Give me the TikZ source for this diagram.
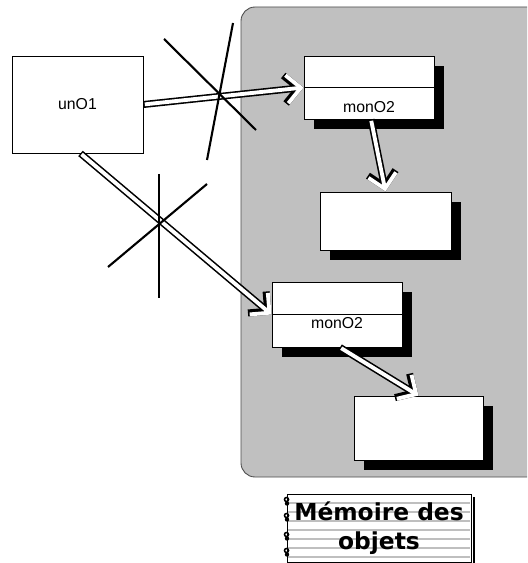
\documentclass[tikz,border=0pt]{standalone}
\usepackage{fontspec}
\setmainfont{Liberation Sans}
\newfontfamily\legfont{DejaVu Sans}
\usetikzlibrary{arrows.meta,positioning,calc,shadows}
\definecolor{memgray}{RGB}{192,192,192}

\begin{document}
\begin{tikzpicture}[x=0.02cm, y=-0.02cm, font=\fontsize{9}{11}\selectfont, line width=0.5pt,
  obj/.style={draw, fill=white, inner sep=0pt, drop shadow={fill=black, opacity=1, shadow xshift=0.2cm, shadow yshift=-0.2cm}},
  hol/.style={line width=4pt, -{Straight Barb[length=8pt, width=16pt, line width=4pt]}, postaction={draw=white, line width=2.2pt, shorten <=0.8pt, -{Straight Barb[length=8pt, width=16pt, line width=2.2pt]}}},
  crs/.style={line width=1.2pt},
  rule/.style={draw=black!25, line width=0.6pt}]
\clip (0,0) rectangle (527,563);
\draw[fill=memgray, draw=black!70, rounded corners=0.28cm] (241,7) rectangle (560,477);
\node[draw, fill=white, minimum width=2.62cm, minimum height=1.94cm] (un) at (77.5,104.5) {unO1};
\node[obj, minimum width=2.6cm, minimum height=1.26cm] (o2a) at (369,87.5) {};
\node (t2a) at (369,107) {monO2};
\node[obj, minimum width=2.62cm, minimum height=1.16cm] (b1) at (385.5,221) {};
\node[obj, minimum width=2.6cm, minimum height=1.3cm] (o2b) at (337,314.5) {};
\node (t2b) at (337,323) {monO2};
\node[obj, minimum width=2.58cm, minimum height=1.28cm] (b2) at (418.5,428) {};
\draw (o2a.west) -- (o2a.east); \draw (o2b.west) -- (o2b.east);
\draw[hol] (un.east) -- (o2a.west); \draw[hol] ($(un.south)+(3,0)$) -- (o2b.west);
\draw[hol] ($(o2a.south)+(2,0)$) -- (b1.north); \draw[hol] ($(o2b.south)+(3,0)$) -- (b2.north);
% croix
\draw[crs] (164,39) -- (256,130); \draw[crs] (233,23) -- (207,160);
\draw[crs] (159,174) -- (159,298); \draw[crs] (207,184) -- (108,267);
% legende
\node[draw, fill=white, minimum width=3.68cm, minimum height=1.36cm, inner sep=0pt] (leg) at (379,528) {};
\draw[line width=0.8pt] (474,497) -- (474,563);
\foreach \y in {503,512,521,530,539,548,557} \draw[rule] (288,\y) -- (470,\y);
\foreach \y in {502,518,537,553} {\draw[line width=0.9pt] (286.5,\y-2.5) circle (2); \fill (287,\y+1.5) circle (2.2);}
\node[align=center, font=\legfont\bfseries\fontsize{13.3}{16.5}\selectfont] (legtxt) at (leg.center) {Mémoire des\\objets};
\end{tikzpicture}
\end{document}
